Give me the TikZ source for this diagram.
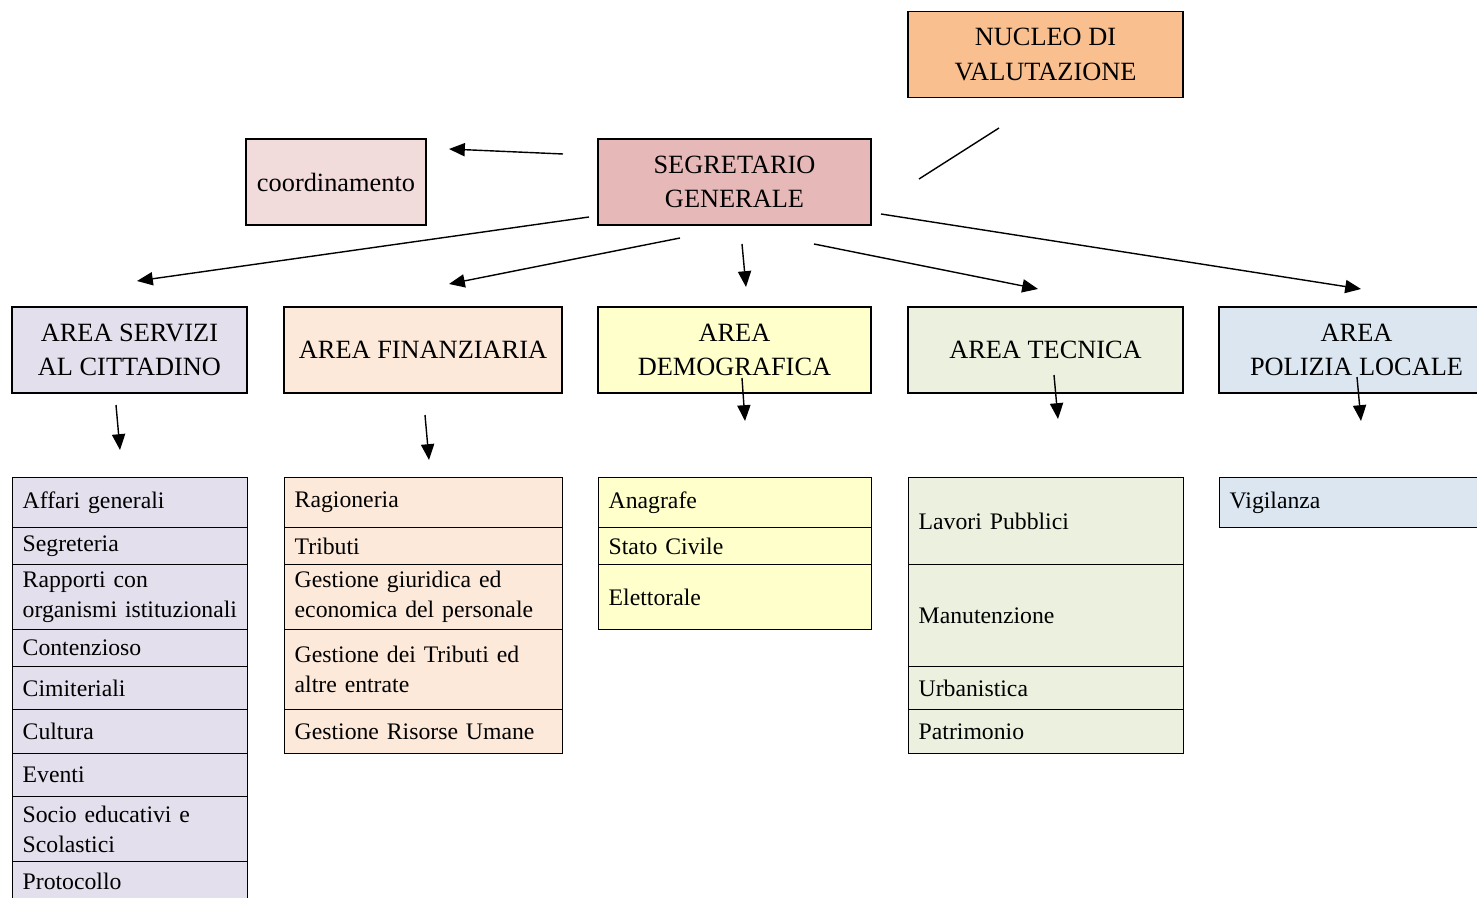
\documentclass[tikz,border=0pt]{standalone}
\usepackage{fontspec}
\setmainfont{Liberation Serif}
\usetikzlibrary{arrows.meta}
\definecolor{nucleo}{HTML}{F9BF8F}
\definecolor{segr}{HTML}{E6B9B8}
\definecolor{coord}{HTML}{F2DCDB}
\definecolor{serv}{HTML}{E4DFEC}
\definecolor{fin}{HTML}{FDE9D9}
\definecolor{demo}{HTML}{FFFFCC}
\definecolor{tec}{HTML}{EBF1DE}
\definecolor{pol}{HTML}{DCE6F1}
\begin{document}
\begin{tikzpicture}[x=0.02cm,y=-0.02cm,line width=0.8pt,
    >={Triangle[length=9pt,width=7.5pt]},
    box/.style={draw,align=center,minimum height=1.72cm,
      font=\fontsize{15}{19.8}\selectfont},
    cell/.style={draw,anchor=north west,align=left,inner xsep=0.2cm,
      inner ysep=1pt,font=\fontsize{13.5}{17}\selectfont}]
          \useasboundingbox (0,0) rectangle (1477,898);
          \node[box,fill=nucleo,minimum width=5.5cm] (n0) at
          (1045.5,54.5) {NUCLEO DI\\VALUTAZIONE}; \node[box,fill=segr,
          minimum width=5.46cm] (n1) at (734.5,182)
          {SEGRETARIO\\GENERALE}; \node[box,fill=coord,minimum
          width=3.6cm] (n10) at (336,182) {coordinamento};
          \node[box,fill=serv,minimum width=4.7cm] (n11) at
          (129.5,350) {AREA SERVIZI\\AL CITTADINO};
          \node[box,fill=fin,minimum width=5.56cm] (n12) at (423,350)
          {AREA FINANZIARIA}; \node[box,fill=demo,minimum
          width=5.46cm] (n13) at (734.5,350) {AREA\\DEMOGRAFICA};
          \node[box,fill=tec,minimum width=5.5cm] (n14) at
          (1045.5,350) {AREA TECNICA}; \node[box,fill=pol,minimum
          width=5.5cm] (n15) at (1356.5,350) {AREA\\POLIZIA LOCALE};
          % servizi al cittadino
          \node[cell,fill=serv,text width=4.3cm,minimum height=1cm]
          (n111) at (12,477) {Affari generali}; \node[cell,fill=serv,
          text width=4.3cm,minimum height=0.74cm] (n112) at (12,527)
          {Segreteria}; \node[cell,fill=serv,text width=4.3cm,minimum
          height=1.3cm] (n113) at (12,564) {Rapporti
          con\\\mbox{organismi istituzionali}}; \node[cell,fill=serv,
          text width=4.3cm,minimum height=0.74cm] (n114) at (12,629)
          {Contenzioso}; \node[cell,fill=serv,text width=4.3cm,minimum
          height=0.86cm] (n115) at (12,666) {Cimiteriali};
          \node[cell,fill=serv,text width=4.3cm,minimum height=0.88cm]
          (n116) at (12,709) {Cultura}; \node[cell,fill=serv,text
          width=4.3cm,minimum height=0.86cm] (n117) at (12,753)
          {Eventi}; \node[cell,fill=serv,text width=4.3cm,minimum
          height=1.3cm] (n118) at (12,796) {Socio educativi
          e\\Scolastici}; \node[cell,fill=serv,text width=4.3cm,minimum
          height=0.8cm] (n119) at (12,861) {Protocollo};
          % finanziaria
          \node[cell,fill=fin,text width=5.16cm,minimum height=1cm]
          (n121) at (284,477) {Ragioneria}; \node[cell,fill=fin,text
          width=5.16cm,minimum height=0.74cm] (n122) at (284,527)
          {Tributi}; \node[cell,fill=fin,text width=5.16cm,minimum
          height=1.3cm] (n123) at (284,564) {Gestione giuridica
          ed\\economica del personale}; \node[cell,fill=fin,text
          width=5.16cm,minimum height=1.6cm] (n124) at (284,629)
          {Gestione dei Tributi ed\\altre entrate};
          \node[cell,fill=fin,text width=5.16cm,minimum height=0.88cm]
          (n125) at (284,709) {Gestione Risorse Umane};
          % demografica
          \node[cell,fill=demo,text width=5.06cm,minimum height=1cm]
          (n131) at (598,477) {Anagrafe}; \node[cell,fill=demo,text
          width=5.06cm,minimum height=0.74cm] (n132) at (598,527)
          {Stato Civile}; \node[cell,fill=demo,text width=5.06cm,
          minimum height=1.3cm] (n133) at (598,564) {Elettorale};
          % tecnica
          \node[cell,fill=tec,text width=5.1cm,minimum height=1.74cm]
          (n141) at (908,477) {Lavori Pubblici}; \node[cell,fill=tec,
          text width=5.1cm,minimum height=2.04cm] (n142) at (908,564)
          {Manutenzione}; \node[cell,fill=tec,text width=5.1cm,minimum
          height=0.86cm] (n143) at (908,666) {Urbanistica};
          \node[cell,fill=tec,text width=5.1cm,minimum height=0.88cm]
          (n144) at (908,709) {Patrimonio};
          % polizia locale
          \node[cell,fill=pol,text width=5.1cm,minimum height=1cm]
          (n151) at (1219,477) {Vigilanza};
          % free ends of the arrows
          \coordinate (c1) at (563,154); \coordinate (c1bis) at
          (449,149); \coordinate (c2) at (589,217); \coordinate
          (c2bis) at (137,281); \coordinate (c3) at (680,238);
          \coordinate (c3bis) at (449,284); \coordinate (c4) at
          (742,244); \coordinate (c4bis) at (746,287); \coordinate
          (c5) at (814,244); \coordinate (c5bis) at (1038,289);
          \coordinate (c6) at (881,214); \coordinate (c6bis) at
          (1361,289); \coordinate (d1) at (116,405); \coordinate
          (d1bis) at (120,450); \coordinate (d2) at (425,415);
          \coordinate (d2bis) at (429,460); \coordinate (d3) at
          (742,378); \coordinate (d3bis) at (745,421); \coordinate
          (d4) at (1054,375); \coordinate (d4bis) at (1058,419);
          \coordinate (d5) at (1357,377); \coordinate (d5bis) at
          (1361,421); \coordinate (e1) at (919,179); \coordinate
          (e1bis) at (999,128);
          \path (c1) edge[->] (c1bis); \path (c2) edge[->] (c2bis);
          \path (c3) edge[->] (c3bis); \path (c4) edge[->] (c4bis);
          \path (c5) edge[->] (c5bis); \path (c6) edge[->] (c6bis);
          \path (d1) edge[->] (d1bis); \path (d2) edge[->] (d2bis);
          \path (d3) edge[->] (d3bis); \path (d4) edge[->] (d4bis);
          \path (d5) edge[->] (d5bis); \path (e1) edge (e1bis);
        \end{tikzpicture}
\end{document}
